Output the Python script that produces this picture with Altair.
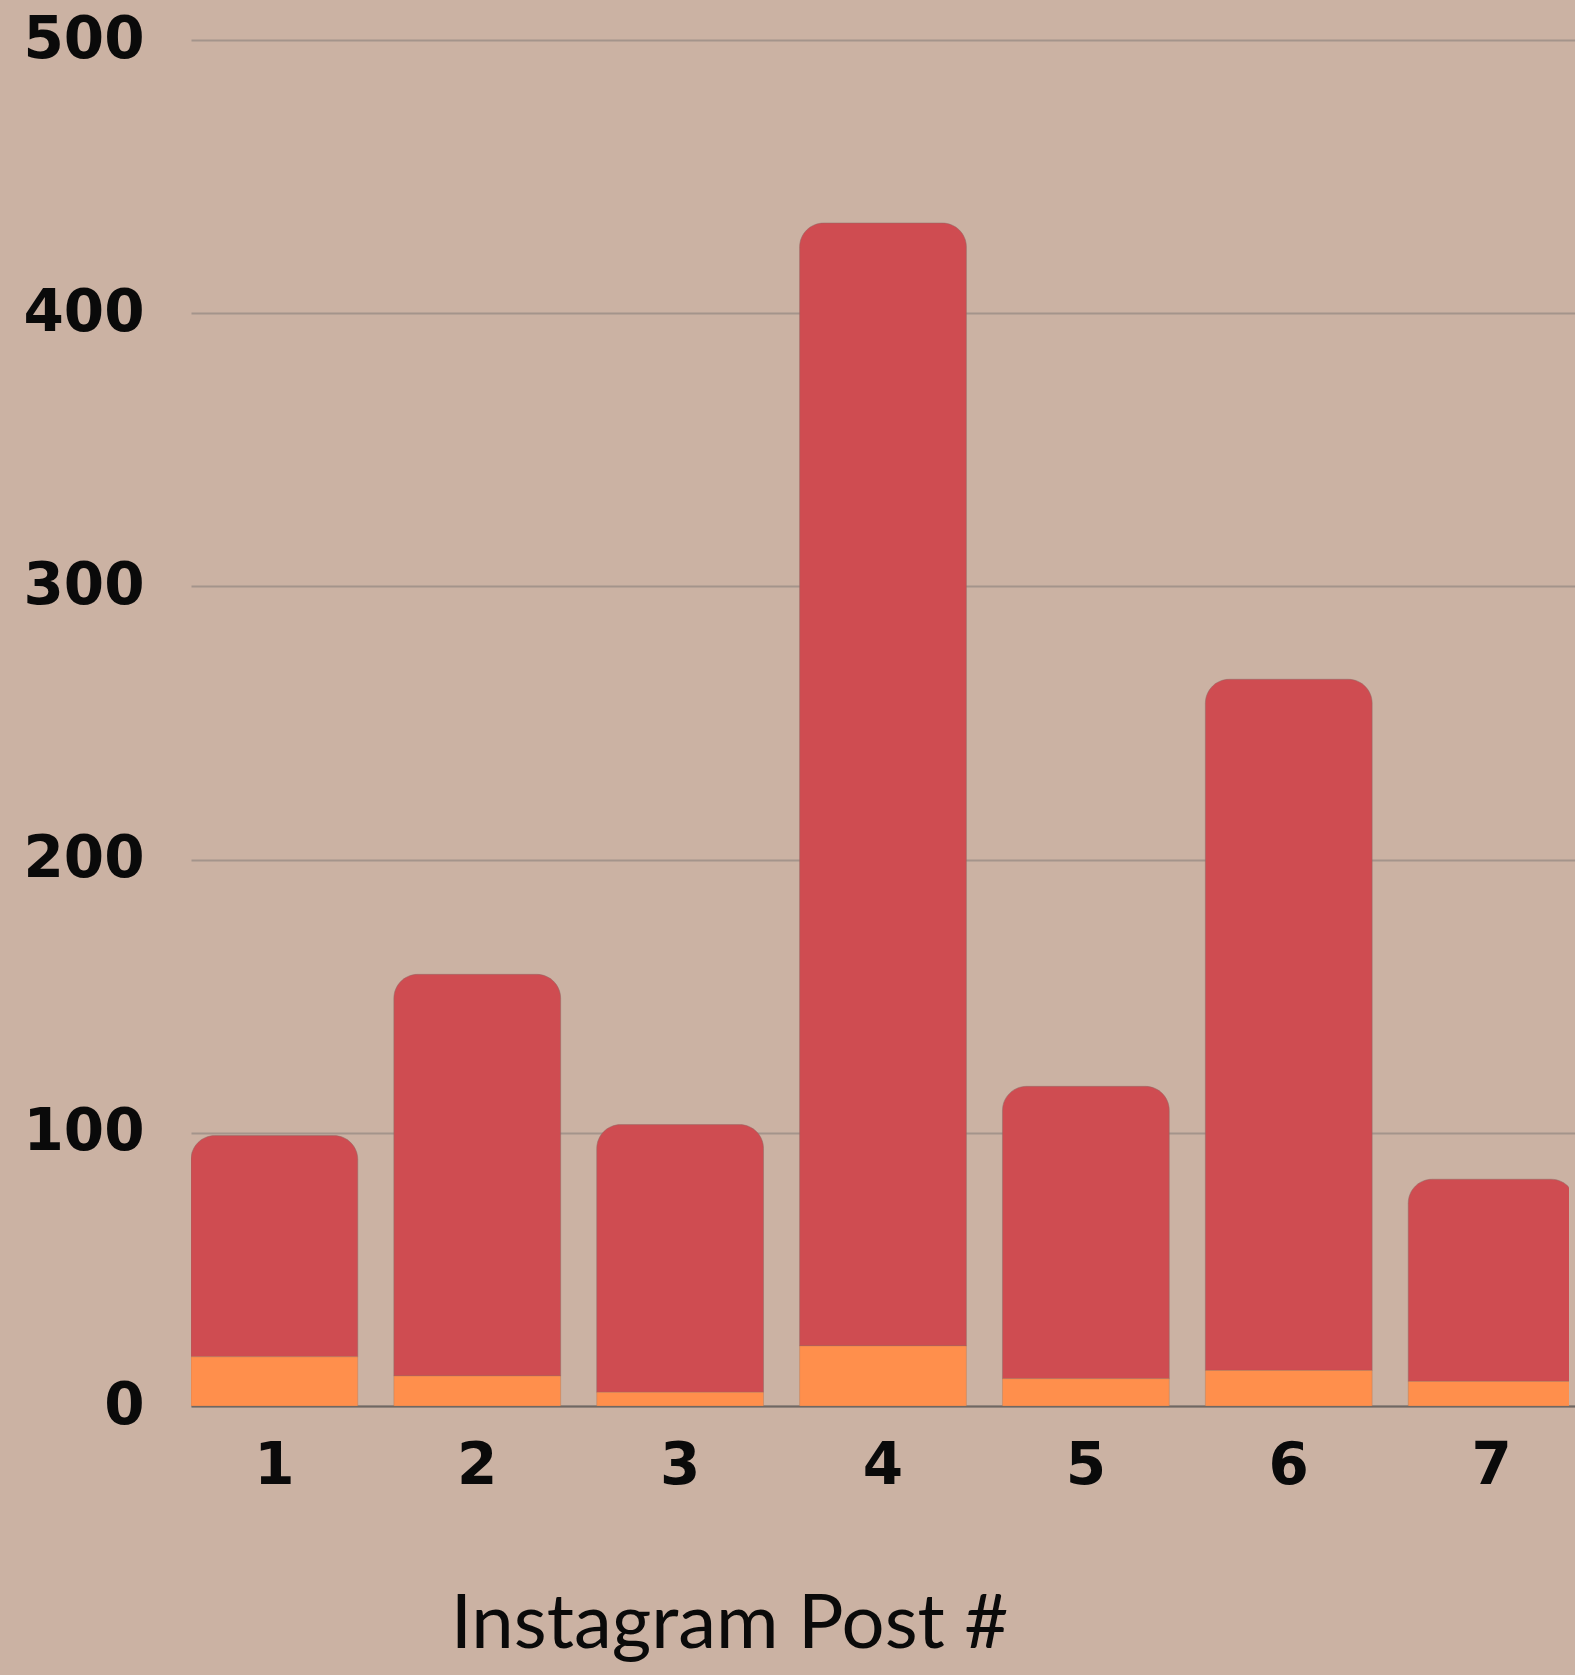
import altair as alt
import pandas as pd

# Per-post counts: bottom (orange) segment and upper (red) segment of each stacked bar
posts = ["1", "2", "3", "4", "5", "6", "7"]
lower_counts = [18, 11, 5, 22, 10, 13, 9]
upper_counts = [81, 147, 98, 411, 107, 253, 74]

df = pd.DataFrame({"post": posts, "lower": lower_counts, "upper": upper_counts})

BG = "#CBB2A3"
RED = "#CF4C51"
ORANGE = "#FF8F4C"
LABEL_FONT = "DejaVu Sans"
TEXT = "#0a0a0a"

PLOT_W = 1378
BAND_RANGE = [0, 1384]  # last bar runs slightly past the plot edge and is clipped

x_enc = alt.X(
    "post:N",
    sort=posts,
    scale=alt.Scale(paddingInner=0.178, paddingOuter=0, range=BAND_RANGE),
    axis=alt.Axis(
        title="Instagram Post #",
        labelAngle=0,
        labelFont=LABEL_FONT,
        labelFontWeight="bold",
        labelFontSize=58,
        labelColor=TEXT,
        labelPadding=31,
        ticks=False,
        domain=True,
        domainColor="#6f6762",
        domainWidth=2,
        titleFont="Lato",
        titleFontWeight="normal",
        titleFontSize=76,
        titleColor=TEXT,
        titleAnchor="start",
        titleAlign="center",
        titleBaseline="alphabetic",
        titleX=538,
        titleY=241,
    ),
)

base = alt.Chart(df).transform_calculate(total="datum.lower + datum.upper")

upper = base.mark_bar(
    color=RED,
    cornerRadiusTopLeft=24,
    cornerRadiusTopRight=24,
    stroke="#8f6a66",
    strokeWidth=1,
    strokeOpacity=0.5,
    clip=True,
).encode(
    x=x_enc,
    y=alt.Y(
        "total:Q",
        scale=alt.Scale(domain=[0, 500], nice=False),
        axis=alt.Axis(
            title=None,
            values=[0, 100, 200, 300, 400, 500],
            labelFont=LABEL_FONT,
            labelFontWeight="bold",
            labelFontSize=58,
            labelColor=TEXT,
            labelPadding=47,
            ticks=False,
            domain=False,
            grid=True,
            gridColor="#A4948B",
            gridWidth=2,
        ),
    ),
    y2="lower:Q",
)

lower = base.mark_bar(
    color=ORANGE,
    stroke="#b07a5a",
    strokeWidth=1,
    strokeOpacity=0.4,
    clip=True,
).encode(
    x=x_enc,
    y=alt.Y("lower:Q"),
    y2=alt.value(1366),
)

chart = (
    alt.layer(upper, lower)
    .properties(
        width=PLOT_W,
        height=1366,
        autosize=alt.AutoSizeParams(type="none"),
        padding={"left": 191, "top": 40, "right": 6, "bottom": 269},
        background=BG,
    )
    .configure_view(stroke=None)
)

chart.save("out.html", embed_options={"renderer": "svg", "actions": False})
